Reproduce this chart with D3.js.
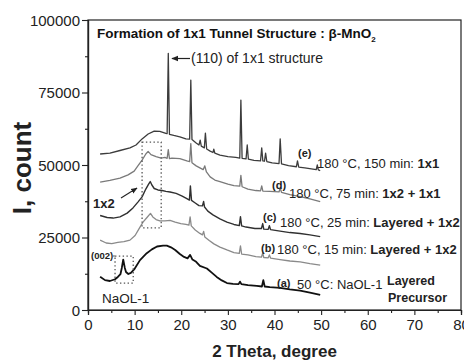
<!DOCTYPE html>
<html>
<head>
<meta charset="utf-8">
<script src="https://cdn.jsdelivr.net/npm/d3@7"></script>
<style>
  html, body { margin: 0; padding: 0; background: #fff; }
  svg { display: block; font-family: "Liberation Sans", Arial, sans-serif; }
</style>
</head>
<body>
<script>
// 2 theta (degree) vs intensity (count)
const traceA = [[2.6,11500],[3.65,10300],[4.7,10000],[5.8,10600],[6.4,11400],[6.97,12400],[7.25,14500],[7.55,17400],[7.9,14500],[8.15,13100],[8.65,12400],[9.2,12800],[9.9,14000],[11.15,17200],[12.6,19600],[13.7,20900],[14.8,21900],[16.1,22200],[16.9,22200],[17.8,21600],[18.7,20700],[19.7,19300],[20.6,18300],[21.35,17800],[21.9,19000],[22.4,17400],[23.2,16600],[24.0,15200],[25.5,14300],[26.6,12800],[27.6,11400],[28.7,10200],[29.8,9300],[31.1,9000],[32.3,8900],[32.6,9800],[32.9,8900],[34.3,8600],[36.2,8300],[37.3,8100],[37.6,10300],[37.9,8100],[39.0,7900],[41.2,7600],[43.3,7100],[45.5,6700],[47.6,6000],[49.8,5200]];

const traceB = [[2.6,24100],[3.9,23100],[5.1,22900],[6.4,23300],[7.7,23600],[9.0,24100],[10.1,25700],[10.9,27900],[11.8,30300],[12.65,31900],[13.4,33300],[13.9,32100],[14.6,31200],[15.4,30700],[16.5,30700],[17.6,30900],[18.7,30300],[19.9,29800],[21.0,29500],[21.65,29300],[21.9,32100],[22.15,29000],[23.0,27600],[24.0,26400],[24.55,25900],[24.8,27100],[25.05,25200],[26.0,24000],[27.0,22800],[28.3,21700],[29.8,20700],[31.3,19800],[32.45,19500],[32.7,22100],[32.95,19300],[34.3,19000],[36.0,18400],[37.2,18200],[37.47,19700],[37.7,18100],[38.65,18000],[38.9,19000],[39.15,17900],[41.2,17400],[43.3,16900],[45.5,16600],[47.6,16000],[49.8,15500]];

const traceC = [[2.6,32600],[4.1,31900],[5.4,31700],[6.86,32100],[8.4,33400],[9.65,35200],[10.7,37200],[11.6,39000],[12.4,41700],[13.0,43400],[13.35,44300],[13.7,43100],[14.2,41900],[15.0,41400],[15.9,41200],[16.7,40900],[17.6,40700],[18.9,40200],[20.2,39300],[21.2,38400],[21.75,37900],[21.96,42800],[22.2,37800],[23.0,36900],[23.8,36000],[24.55,35900],[24.8,37400],[25.0,35500],[25.7,34100],[26.8,32800],[28.3,31400],[29.8,30300],[31.3,29500],[32.45,29100],[32.7,32200],[32.95,29000],[33.9,28600],[35.8,28100],[37.2,28100],[37.47,29800],[37.7,27900],[38.65,27800],[38.9,29100],[39.15,27700],[41.2,27200],[43.3,26700],[45.5,26400],[47.6,25900],[49.8,25300]];

const traceD = [[2.6,44100],[4.7,44700],[6.86,45500],[8.6,46600],[9.9,47900],[10.7,49700],[11.6,51700],[12.4,53800],[12.9,54700],[13.5,53600],[14.6,52900],[15.7,52400],[16.5,52600],[16.97,52300],[17.22,55300],[17.47,52200],[18.0,52400],[19.7,52200],[21.2,51400],[21.8,51200],[22.05,57400],[22.3,50800],[23.2,49700],[24.0,49000],[24.7,48400],[25.05,49700],[25.4,47600],[26.2,45900],[27.2,44800],[28.3,44300],[30.0,43400],[31.3,42900],[32.55,42700],[32.79,46400],[33.05,42500],[34.3,41700],[36.0,41200],[37.0,41100],[37.26,42800],[37.5,41000],[39.0,40900],[40.97,40700],[41.22,42100],[41.5,40600],[43.3,39800],[45.5,39100],[47.6,38300],[49.8,37400]];

const traceE = [[2.6,53800],[4.7,54100],[6.86,55000],[9.0,55900],[10.3,56900],[11.6,59000],[12.9,60700],[14.2,61700],[15.4,61600],[16.7,60900],[16.97,60800],[17.22,88500],[17.47,60600],[18.4,60200],[19.7,59700],[21.0,59000],[21.8,58900],[22.05,79300],[22.3,58800],[23.2,57600],[23.8,56900],[24.06,58600],[24.3,56500],[24.95,55900],[25.18,61000],[25.45,55500],[26.2,54800],[26.8,54300],[26.98,55500],[27.2,54100],[28.3,53400],[30.0,52900],[31.7,52600],[32.55,52400],[32.79,72400],[33.05,52300],[33.9,52100],[34.15,56900],[34.4,52000],[35.6,51600],[37.0,51400],[37.26,55900],[37.5,51400],[37.85,51300],[38.09,54100],[38.35,51200],[39.5,50700],[40.97,50500],[41.22,59000],[41.5,50400],[43.0,49800],[44.7,49400],[44.93,51400],[45.2,49300],[46.5,49000],[48.95,48400],[49.18,50000],[49.4,48300],[49.8,48100]];

const xMajor = [0, 10, 20, 30, 40, 50, 60, 70, 80];
const xMinor = [5, 15, 25, 35, 45, 55, 65, 75];
const yMajor = [0, 25000, 50000, 75000, 100000];
const yMinor = [12500, 37500, 62500, 87500];

const traces = [
  { data: traceE, color: '#3c3c3c', width: 1.3 },
  { data: traceD, color: '#7a7a7a', width: 1.3 },
  { data: traceC, color: '#303030', width: 1.4 },
  { data: traceB, color: '#8a8a8a', width: 1.3 },
  { data: traceA, color: '#111111', width: 1.8 }
];

const width = 464, height = 362;
const margin = { top: 20, right: 3, bottom: 52, left: 88 };

const svg = d3.select('body').append('svg')
  .attr('width', width)
  .attr('height', height);

const x = d3.scaleLinear().domain([0, 80]).range([margin.left, width - margin.right]);
const y = d3.scaleLinear().domain([0, 100000]).range([height - margin.bottom, margin.top]);

// frame
svg.append('rect')
  .attr('x', x(0)).attr('y', y(100000))
  .attr('width', x(80) - x(0)).attr('height', y(0) - y(100000))
  .attr('fill', 'none').attr('stroke', '#222').attr('stroke-width', 1.2);

// axes
const gx = svg.append('g')
  .attr('transform', `translate(0,${y(0)})`)
  .call(d3.axisBottom(x).tickValues(xMajor).tickSize(5).tickPadding(4).tickFormat(d3.format('d')));
svg.append('g')
  .attr('transform', `translate(0,${y(0)})`)
  .call(d3.axisBottom(x).tickValues(xMinor).tickSize(3).tickFormat(''));
const gy = svg.append('g')
  .attr('transform', `translate(${x(0)},0)`)
  .call(d3.axisLeft(y).tickValues(yMajor).tickSize(6).tickPadding(2).tickFormat(d3.format('d')));
svg.append('g')
  .attr('transform', `translate(${x(0)},0)`)
  .call(d3.axisLeft(y).tickValues(yMinor).tickSize(3).tickFormat(''));

svg.selectAll('.domain').attr('stroke', '#222').attr('stroke-width', 1.2);
svg.selectAll('.tick line').attr('stroke', '#222').attr('stroke-width', 1.1);
gx.selectAll('text').style('font-size', '15px').attr('fill', '#222');
gy.selectAll('text').style('font-size', '15px').attr('fill', '#222').attr('dy', '0.35em');

// traces
const line = d3.line().x(d => x(d[0])).y(d => y(d[1]));
svg.selectAll('.trace')
  .data(traces)
  .enter()
  .append('path')
  .attr('class', 'trace')
  .attr('d', d => line(d.data))
  .attr('fill', 'none')
  .attr('stroke', d => d.color)
  .attr('stroke-width', d => d.width)
  .attr('stroke-linejoin', 'round');

// axis titles
svg.append('text')
  .attr('x', x(40)).attr('y', 357)
  .attr('text-anchor', 'middle')
  .style('font-size', '17px').style('font-weight', 'bold')
  .attr('fill', '#222')
  .text('2 Theta, degree');

svg.append('text')
  .attr('transform', 'translate(31,168) rotate(-90)')
  .attr('text-anchor', 'middle')
  .style('font-size', '26px').style('font-weight', 'bold')
  .attr('fill', '#222')
  .text('I, count');

// chart title
const title = svg.append('text')
  .attr('x', 97).attr('y', 38)
  .style('font-size', '13.5px').style('font-weight', 'bold')
  .attr('fill', '#111')
  .text('Formation of 1x1 Tunnel Structure : β-MnO');
title.append('tspan').attr('dy', 4).style('font-size', '8px').text('2');

// arrow markers
const defs = svg.append('defs');
defs.append('marker')
  .attr('id', 'arr')
  .attr('viewBox', '0 0 10 10')
  .attr('refX', 9).attr('refY', 5)
  .attr('markerWidth', 6).attr('markerHeight', 6)
  .attr('orient', 'auto')
  .append('path').attr('d', 'M0,1 L10,5 L0,9 Z').attr('fill', '#222');

// (110) annotation
svg.append('line')
  .attr('x1', 190).attr('y1', 58.5).attr('x2', 172).attr('y2', 58.5)
  .attr('stroke', '#222').attr('stroke-width', 1.2)
  .attr('marker-end', 'url(#arr)');
svg.append('text')
  .attr('x', 191).attr('y', 63)
  .style('font-size', '14px').attr('fill', '#222')
  .text('(110) of 1x1 structure');

// dotted boxes
const dotted = (t0, t1, i0, i1) => svg.append('rect')
  .attr('x', x(t0)).attr('y', y(i1))
  .attr('width', x(t1) - x(t0)).attr('height', y(i0) - y(i1))
  .attr('fill', 'none').attr('stroke', '#555').attr('stroke-width', 1.3)
  .attr('stroke-dasharray', '1.4,2.4');
dotted(11.6, 15.7, 28300, 57900);
dotted(5.8, 9.7, 9300, 18600);

// 1x2 annotation
svg.append('text')
  .attr('x', 93).attr('y', 208)
  .style('font-size', '13px').style('font-weight', 'bold').attr('fill', '#222')
  .text('1x2');
svg.append('line')
  .attr('x1', 121).attr('y1', 198).attr('x2', 137).attr('y2', 188)
  .attr('stroke', '#222').attr('stroke-width', 1.1)
  .attr('marker-end', 'url(#arr)');

// (002) annotation
svg.append('text')
  .attr('x', 91).attr('y', 259)
  .style('font-size', '9.5px').style('font-weight', 'bold').attr('fill', '#222')
  .text('(002)');
svg.append('line')
  .attr('x1', 113).attr('y1', 256).attr('x2', x(5.8)).attr('y2', 256)
  .attr('stroke', '#555').attr('stroke-width', 1);
svg.append('text')
  .attr('x', 102).attr('y', 303)
  .style('font-size', '13.5px').attr('fill', '#222')
  .text('NaOL-1');

// trace labels
const labels = [
  { tag: '(e)', tx: 298, ty: 157, x: 317, y: 168, normal: '180 °C, 150 min: ', bold: '1x1' },
  { tag: '(d)', tx: 272, ty: 189, x: 289, y: 198, normal: '180 °C, 75 min: ', bold: '1x2 + 1x1' },
  { tag: '(c)', tx: 263, ty: 221, x: 280, y: 226.5, normal: '180 °C, 25 min: ', bold: 'Layered + 1x2' },
  { tag: '(b)', tx: 261, ty: 251.5, x: 277, y: 254, normal: '180 °C, 15 min: ', bold: 'Layered + 1x2' },
  { tag: '(a)', tx: 277, ty: 286.5, x: 297, y: 288.5, normal: '50 °C: NaOL-1', bold: '' }
];
labels.forEach(l => {
  svg.append('text')
    .attr('x', l.tx).attr('y', l.ty)
    .style('font-size', '11px').style('font-weight', 'bold').attr('fill', '#222')
    .text(l.tag);
  const t = svg.append('text')
    .attr('x', l.x).attr('y', l.y)
    .style('font-size', '13px').attr('fill', '#222');
  t.append('tspan').text(l.normal);
  t.append('tspan').style('font-weight', 'bold').text(l.bold);
});
svg.append('text')
  .attr('x', 387).attr('y', 285)
  .style('font-size', '12.5px').style('font-weight', 'bold').attr('fill', '#222')
  .text('Layered');
svg.append('text')
  .attr('x', 388).attr('y', 302)
  .style('font-size', '12.5px').style('font-weight', 'bold').attr('fill', '#222')
  .text('Precursor');
</script>
</body>
</html>
